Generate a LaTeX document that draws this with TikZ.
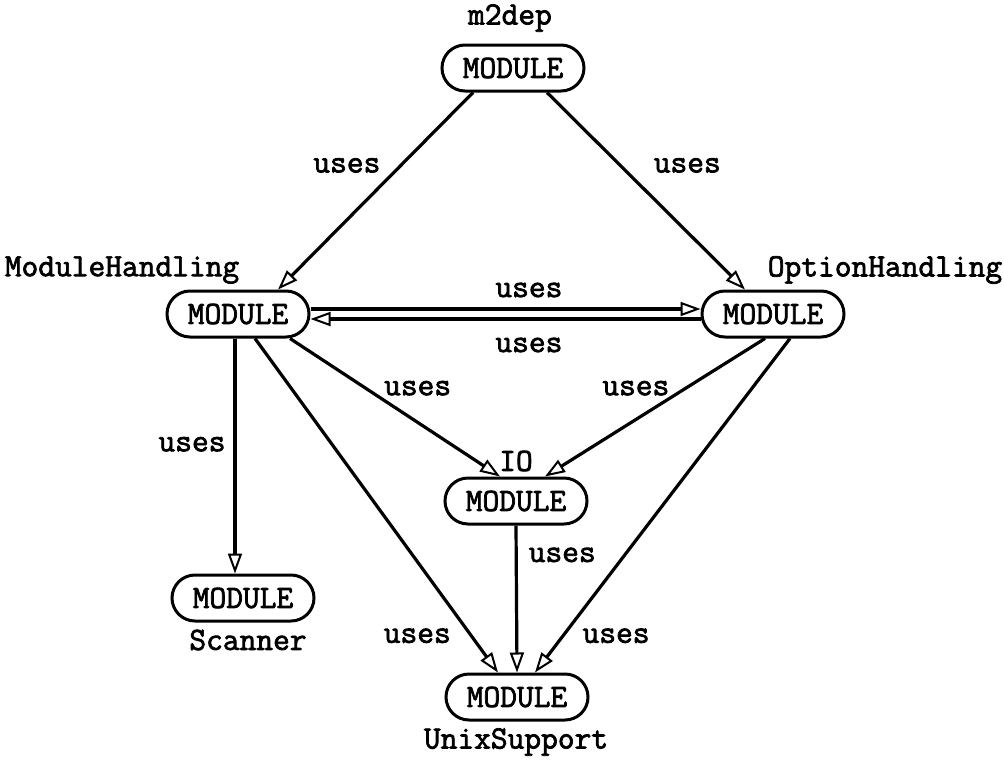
\documentclass[tikz,border=0pt]{standalone}
\usepackage{fontspec}
\newfontfamily\diagtt{Latin Modern Mono}[AutoFakeBold=2.2]
\usetikzlibrary{arrows.meta,calc}
\begin{document}
\begin{tikzpicture}[x=1pt,y=-1pt,
  every node/.style={font=\fontsize{32.5}{35}\selectfont\diagtt\bfseries},
  module/.style={draw,line width=3pt,rounded corners=23pt,minimum width=142pt,minimum height=46pt,inner sep=0pt},
  lbl/.style={inner sep=0pt},
  conn/.style={line width=3.2pt,-{Triangle[open,length=20pt,width=14pt,line width=2pt]}},
  uses/.style={inner sep=0pt}]
\useasboundingbox (0,0) rectangle (1004,761);
% modules
\node[module] (m2dep) at (513,68) {MODULE};
\node[module] (mh) at (238,314) {MODULE};
\node[module] (oh) at (773,314) {MODULE};
\node[module] (io) at (516,501) {MODULE};
\node[module] (sc) at (243,598) {MODULE};
\node[module] (ux) at (517,697) {MODULE};
% names
\node[lbl] (t1) at (510,18) {m2dep};
\node[lbl] (t2) at (122,270) {ModuleHandling};
\node[lbl] (t3) at (885,270) {OptionHandling};
\node[lbl] (t4) at (516,461) {IO};
\node[lbl] (t5) at (248,640) {Scanner};
\node[lbl] (t6) at (516,742) {UnixSupport};
\coordinate (mhs) at ($(mh.south)+(-3,0)$);
% connectors
\draw[conn] ($(m2dep.south)+(-40,0)$) -- node[uses,pos=.37,xshift=-54pt]{uses} ($(mh.north)+(40,0)$);
\draw[conn] ($(m2dep.south)+(34,0)$) -- node[uses,pos=.37,xshift=67pt]{uses} ($(oh.north)+(-28,0)$);
\draw[conn] ($(mh.east)+(0,-5)$) -- node[uses,pos=.56,yshift=19pt]{uses} ($(oh.west)+(0,-5)$);
\draw[conn] ($(oh.west)+(0,5)$) -- node[uses,pos=.44,yshift=-26pt]{uses} ($(mh.east)+(0,5)$);
\draw[conn] ($(mh.south)+(52,0)$) -- node[uses,pos=.36,xshift=52pt]{uses} ($(io.north)+(-16,0)$);
\draw[conn] ($(oh.south)+(-8,0)$) -- node[uses,pos=.36,xshift=-50pt]{uses} ($(io.north)+(29,0)$);
\draw[conn] (mhs) -- node[uses,pos=.45,xshift=-43pt]{uses} (mhs |- sc.north);
\draw[conn] ($(mh.south)+(17,0)$) -- node[uses,pos=.89,xshift=-54pt]{uses} ($(ux.north)+(-19,0)$);
\draw[conn] (io.south) -- node[uses,pos=.2,xshift=46pt]{uses} (ux.north);
\draw[conn] ($(oh.south)+(17,0)$) -- node[uses,pos=.89,xshift=53pt]{uses} ($(ux.north)+(18,0)$);
\end{tikzpicture}
\end{document}
